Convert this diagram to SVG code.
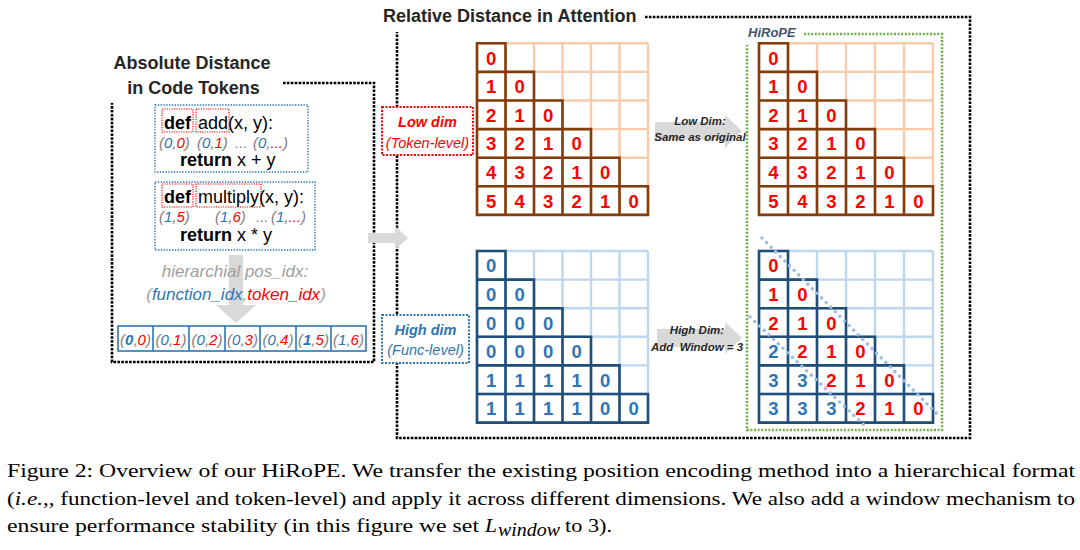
<svg xmlns="http://www.w3.org/2000/svg" width="1080" height="550" viewBox="0 0 1080 550">
<defs>
<style>
.blk{fill:none;stroke:#000;stroke-width:2.6;stroke-dasharray:2.6 1.3}
.ttl{font-family:"Liberation Sans",Arial,sans-serif;font-weight:bold;font-size:18px;fill:#262626}
.code{font-family:"Liberation Sans",Arial,sans-serif;font-size:18px;fill:#000}
.b{font-weight:bold}
.tup{font-family:"Liberation Sans",Arial,sans-serif;font-style:italic;font-size:15px;fill:#7f7f7f}
.bl{fill:#2e75b6}
.rd{fill:#ff0000}
.num{font-family:"Liberation Sans",Arial,sans-serif;font-weight:bold;font-size:18.5px;text-anchor:middle}
.lgO{fill:none;stroke:#f8cbad;stroke-width:2.4}
.dkO{fill:none;stroke:#843c0c;stroke-width:2.6;stroke-linecap:square}
.lgB{fill:none;stroke:#bdd7ee;stroke-width:2.4}
.dkB{fill:none;stroke:#1f4e79;stroke-width:2.6;stroke-linecap:square}
.arr{fill:#d9d9d9}
.lbl{font-family:"Liberation Sans",Arial,sans-serif;font-style:italic;font-weight:bold;font-size:11.5px;fill:#262626;text-anchor:middle}
.dim{font-family:"Liberation Sans",Arial,sans-serif;font-style:italic;font-size:14.5px;text-anchor:middle}
.cap{font-family:"Liberation Serif","Times New Roman",serif;font-size:19.5px;fill:#000}
.bdot{fill:none;stroke:#2e75b6;stroke-width:1.4;stroke-dasharray:1.4 1.4}
.rdot{fill:none;stroke:#ff0000;stroke-width:1.2;stroke-dasharray:1.2 1.2}
.diag{fill:none;stroke:#9fbbe6;stroke-width:3.6;stroke-linecap:round;stroke-dasharray:0 6.5}
</style>
</defs>

<!-- connectors / frames -->
<g id="connectors">
  <path class="blk" d="M283 83H374V362H112V103"/>
  <path class="blk" d="M645 17H970V438H397V32"/>
  <polygon class="arr" points="368,233 395,233 395,226 408,238 395,250 395,243 368,243"/>
  <polygon class="arr" points="229,255 243,255 243,305 256,305 236,323 216,305 229,305"/>
  <polygon class="arr" points="655,122 725,122 725,115 742,131 725,148 725,140 655,140"/>
  <polygon class="arr" points="657,329 725,329 725,322 742,338 725,354 725,347 657,347"/>
</g>

<!-- left panel -->
<g id="absolute-title">
  <text class="ttl" x="192" y="69" text-anchor="middle">Absolute Distance</text>
  <text class="ttl" x="193.5" y="94" text-anchor="middle">in Code Tokens</text>
</g>

<g id="code-add">
  <rect class="bdot" x="155" y="105" width="153" height="67" fill="#fff"/>
  <rect class="rdot" x="162" y="109" width="31" height="23"/>
  <rect class="rdot" x="196" y="109" width="33" height="23"/>
  <text class="code" x="164" y="129"><tspan class="b">def</tspan></text>
  <text class="code" x="198" y="129">add(x, y):</text>
  <text class="tup" x="159" y="148">(<tspan class="bl">0</tspan>,<tspan class="rd">0</tspan>)</text>
  <text class="tup" x="197" y="148">(<tspan class="bl">0</tspan>,<tspan class="rd">1</tspan>)</text>
  <text class="tup" x="235" y="148">...</text>
  <text class="tup" x="253" y="148">(<tspan class="bl">0</tspan>,<tspan class="rd">...</tspan>)</text>
  <text class="code" x="180" y="166"><tspan class="b">return</tspan> x + y</text>
</g>

<g id="code-multiply">
  <rect class="bdot" x="155" y="182" width="160" height="68" fill="#fff"/>
  <rect class="rdot" x="162" y="184" width="31" height="23"/>
  <rect class="rdot" x="196" y="184" width="65" height="23"/>
  <text class="code" x="164" y="203"><tspan class="b">def</tspan></text>
  <text class="code" x="198" y="203">multiply(x, y):</text>
  <text class="tup" x="159" y="222">(<tspan class="bl">1</tspan>,<tspan class="rd">5</tspan>)</text>
  <text class="tup" x="215" y="222">(<tspan class="bl">1</tspan>,<tspan class="rd">6</tspan>)</text>
  <text class="tup" x="256" y="222">...</text>
  <text class="tup" x="271" y="222">(<tspan class="bl">1</tspan>,<tspan class="rd">...</tspan>)</text>
  <text class="code" x="180" y="241"><tspan class="b">return</tspan> x * y</text>
</g>

<g id="pos-idx-label" font-family="Liberation Sans, Arial, sans-serif" font-style="italic" font-size="17" text-anchor="middle">
  <text x="235" y="277" fill="#a0a0a0">hierarchial pos_idx:</text>
  <text x="236" y="300" fill="#a0a0a0">(<tspan class="bl">function_idx</tspan>,<tspan class="rd">token_idx</tspan>)</text>
</g>

<g id="pos-idx-row">
  <rect x="118" y="326" width="248" height="25" fill="#fff" stroke="#2e75b6" stroke-width="1.6"/>
  <path d="M153 326V351M189 326V351M225 326V351M260 326V351M296 326V351M331 326V351" stroke="#2e75b6" stroke-width="1.6"/>
  <g class="tup" font-size="15.5" text-anchor="middle">
    <text x="135.5" y="345">(<tspan class="bl" font-weight="bold">0</tspan>,<tspan class="rd">0</tspan>)</text>
    <text x="171" y="345">(<tspan class="bl">0</tspan>,<tspan class="rd">1</tspan>)</text>
    <text x="207" y="345">(<tspan class="bl">0</tspan>,<tspan class="rd">2</tspan>)</text>
    <text x="242.5" y="345">(<tspan class="bl">0</tspan>,<tspan class="rd">3</tspan>)</text>
    <text x="278" y="345">(<tspan class="bl">0</tspan>,<tspan class="rd">4</tspan>)</text>
    <text x="313.5" y="345">(<tspan class="bl" font-weight="bold">1</tspan>,<tspan class="rd">5</tspan>)</text>
    <text x="348.5" y="345">(<tspan class="bl">1</tspan>,<tspan class="rd">6</tspan>)</text>
  </g>
</g>

<!-- middle -->
<g id="relative-title">
  <text class="ttl" x="383" y="22">Relative Distance in Attention</text>
</g>

<g id="low-dim-label">
  <rect x="382" y="107" width="91" height="48" fill="#fff" stroke="#ff0000" stroke-width="2" stroke-dasharray="2 1.5"/>
  <text class="dim rd" x="427.5" y="127" font-weight="bold">Low dim</text>
  <text class="dim rd" x="427.5" y="148">(Token-level)</text>
</g>

<g id="high-dim-label">
  <rect x="382" y="315" width="87" height="48" fill="#fff" stroke="#2e75b6" stroke-width="2" stroke-dasharray="2 1.5"/>
  <text class="dim bl" x="425.5" y="335" font-weight="bold">High dim</text>
  <text class="dim bl" x="425.5" y="355">(Func-level)</text>
</g>

<g id="grid-token-original">
  <path class="lgO" d="M477 43.3H648M477 71.9H648M477 100.5H648M477 129.1H648M477 157.7H648M477 186.3H648M477 214.9H648M477 43.3V214.9M505.5 43.3V214.9M534 43.3V214.9M562.5 43.3V214.9M591 43.3V214.9M619.5 43.3V214.9M648 43.3V214.9"/>
  <path class="dkO" d="M477 43.3H505.5M477 71.9H534M477 100.5H562.5M477 129.1H591M477 157.7H619.5M477 186.3H648M477 214.9H648M477 43.3V214.9M505.5 43.3V214.9M534 71.9V214.9M562.5 100.5V214.9M591 129.1V214.9M619.5 157.7V214.9M648 186.3V214.9"/>
  <g class="num rd">
    <text x="491.25" y="64.6">0</text>
    <text x="491.25 519.75" y="93.2">10</text>
    <text x="491.25 519.75 548.25" y="121.8">210</text>
    <text x="491.25 519.75 548.25 576.75" y="150.4">3210</text>
    <text x="491.25 519.75 548.25 576.75 605.25" y="179">43210</text>
    <text x="491.25 519.75 548.25 576.75 605.25 633.75" y="207.6">543210</text>
  </g>
</g>

<g id="grid-func-original">
  <path class="lgB" d="M477 251H648M477 279.6H648M477 308.2H648M477 336.8H648M477 365.4H648M477 394H648M477 422.6H648M477 251V422.6M505.5 251V422.6M534 251V422.6M562.5 251V422.6M591 251V422.6M619.5 251V422.6M648 251V422.6"/>
  <path class="dkB" d="M477 251H505.5M477 279.6H534M477 308.2H562.5M477 336.8H591M477 365.4H619.5M477 394H648M477 422.6H648M477 251V422.6M505.5 251V422.6M534 279.6V422.6M562.5 308.2V422.6M591 336.8V422.6M619.5 365.4V422.6M648 394V422.6"/>
  <g class="num bl">
    <text x="491.25" y="272.3">0</text>
    <text x="491.25 519.75" y="300.9">00</text>
    <text x="491.25 519.75 548.25" y="329.5">000</text>
    <text x="491.25 519.75 548.25 576.75" y="358.1">0000</text>
    <text x="491.25 519.75 548.25 576.75 605.25" y="386.7">11110</text>
    <text x="491.25 519.75 548.25 576.75 605.25 633.75" y="415.3">111100</text>
  </g>
</g>

<g id="arrow-labels">
  <text class="lbl" x="700" y="125">Low Dim:</text>
  <text class="lbl" x="700" y="141">Same as original</text>
  <text class="lbl" x="697" y="334">High Dim:</text>
  <text class="lbl" x="697" y="351">Add&#160; Window = 3</text>
</g>

<!-- right: HiRoPE -->
<g id="hirope">
  <path d="M804 34H942V430H747V45" fill="none" stroke="#70ad47" stroke-width="2.6" stroke-dasharray="2 1.6"/>
  <text x="748" y="37" font-family="Liberation Sans, Arial, sans-serif" font-style="italic" font-weight="bold" font-size="13" fill="#44546a">HiRoPE</text>
</g>

<g id="grid-token-hirope">
  <path class="lgO" d="M759 43.3H933M759 71.9H933M759 100.5H933M759 129.1H933M759 157.7H933M759 186.3H933M759 214.9H933M759 43.3V214.9M788 43.3V214.9M817 43.3V214.9M846 43.3V214.9M875 43.3V214.9M904 43.3V214.9M933 43.3V214.9"/>
  <path class="dkO" d="M759 43.3H788M759 71.9H817M759 100.5H846M759 129.1H875M759 157.7H904M759 186.3H933M759 214.9H933M759 43.3V214.9M788 43.3V214.9M817 71.9V214.9M846 100.5V214.9M875 129.1V214.9M904 157.7V214.9M933 186.3V214.9"/>
  <g class="num rd">
    <text x="773.5" y="64.6">0</text>
    <text x="773.5 802.5" y="93.2">10</text>
    <text x="773.5 802.5 831.5" y="121.8">210</text>
    <text x="773.5 802.5 831.5 860.5" y="150.4">3210</text>
    <text x="773.5 802.5 831.5 860.5 889.5" y="179">43210</text>
    <text x="773.5 802.5 831.5 860.5 889.5 918.5" y="207.6">543210</text>
  </g>
</g>

<g id="grid-func-hirope">
  <path class="lgB" d="M759 251H933M759 279.6H933M759 308.2H933M759 336.8H933M759 365.4H933M759 394H933M759 422.6H933M759 251V422.6M788 251V422.6M817 251V422.6M846 251V422.6M875 251V422.6M904 251V422.6M933 251V422.6"/>
  <path class="dkB" d="M759 251H788M759 279.6H817M759 308.2H846M759 336.8H875M759 365.4H904M759 394H933M759 422.6H933M759 251V422.6M788 251V422.6M817 279.6V422.6M846 308.2V422.6M875 336.8V422.6M904 365.4V422.6M933 394V422.6"/>
  <g class="num rd">
    <text x="773.5" y="272.3">0</text>
    <text x="773.5 802.5" y="300.9">10</text>
    <text x="773.5 802.5 831.5" y="329.5">210</text>
    <text x="773.5 802.5 831.5 860.5" y="358.1"><tspan class="bl">2</tspan>210</text>
    <text x="773.5 802.5 831.5 860.5 889.5" y="386.7"><tspan class="bl">33</tspan>210</text>
    <text x="773.5 802.5 831.5 860.5 889.5 918.5" y="415.3"><tspan class="bl">333</tspan>210</text>
  </g>
  <path class="diag" d="M762 238L940 417"/>
  <path class="diag" d="M750 317L867 428"/>
</g>

<!-- caption -->
<g id="caption">
  <text class="cap" x="7" y="477" textLength="1068" lengthAdjust="spacingAndGlyphs">Figure 2: Overview of our HiRoPE. We transfer the existing position encoding method into a hierarchical format</text>
  <text class="cap" x="7" y="505" textLength="1068" lengthAdjust="spacingAndGlyphs">(<tspan font-style="italic">i.e.,</tspan>, function-level and token-level) and apply it across different dimensions. We also add a window mechanism to</text>
  <text class="cap" x="7" y="532" textLength="472" lengthAdjust="spacingAndGlyphs">ensure performance stability (in this figure we set</text>
  <text class="cap" x="485" y="532" font-style="italic" textLength="12" lengthAdjust="spacingAndGlyphs">L</text>
  <text class="cap" x="498" y="536" font-style="italic" font-size="14" textLength="62" lengthAdjust="spacingAndGlyphs">window</text>
  <text class="cap" x="565" y="532" textLength="47" lengthAdjust="spacingAndGlyphs">to 3).</text>
</g>
</svg>
